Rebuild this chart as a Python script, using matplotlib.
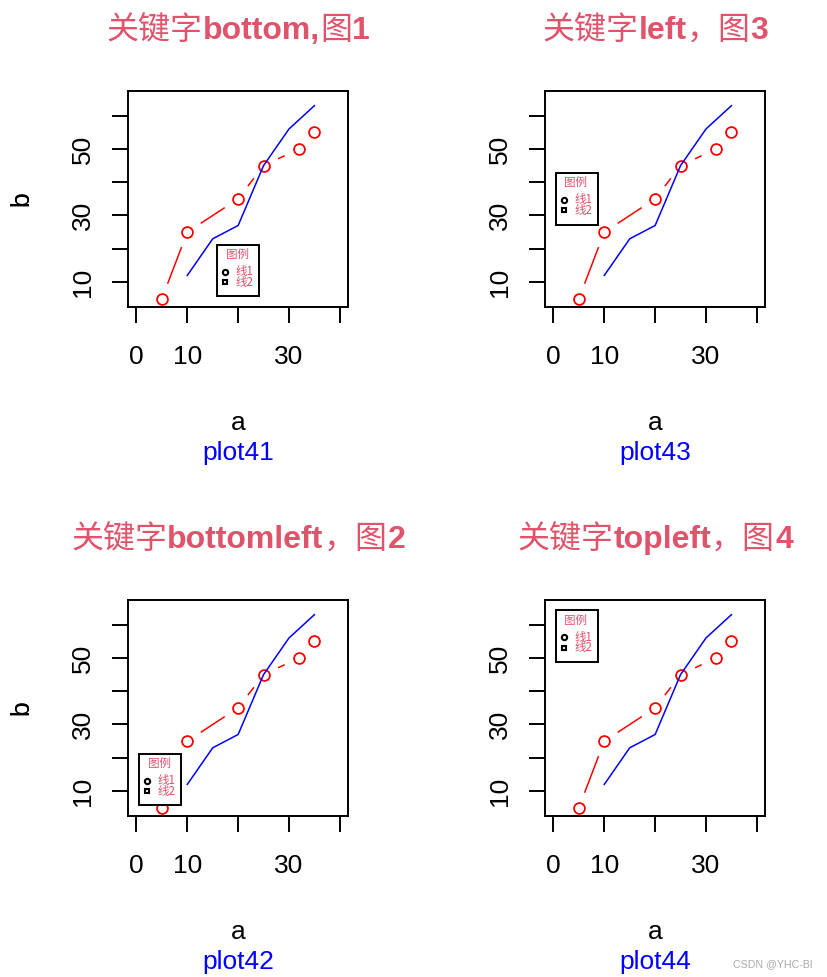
import numpy as np
import matplotlib
matplotlib.use("Agg")
import matplotlib.pyplot as plt
from matplotlib.lines import Line2D
from matplotlib.patches import Rectangle
from matplotlib.transforms import IdentityTransform

# data
a1 = [10, 15, 20, 25, 30, 35]      # blue line
b1 = [12, 23, 27, 45, 56, 63]
a2 = [5, 10, 20, 25, 32, 35]       # red points + gapped line
b2 = [5, 25, 35, 45, 50, 55]

x_ticks = [0, 10, 20, 30, 40]
x_labels = ["0", "10", "", "30", ""]
y_ticks = [10, 20, 30, 40, 50, 60]
y_labels = ["10", "", "30", "", "50", ""]

titles = ["关键字bottom,图1", "关键字left，图3", "关键字bottomleft，图2", "关键字topleft，图4"]
subs = ["plot41", "plot43", "plot42", "plot44"]
locs = ["bottom", "left", "bottomleft", "topleft"]
leg_title = "图例"
leg_labels = ["线1", "线2"]

TITLE_C = "#DF536B"
CJK = "Noto Sans CJK SC"
LAT = "Liberation Sans"
FS = 19

W, H = 827, 977
fig = plt.figure(figsize=(W / 100, H / 100), dpi=100)
PIX = IdentityTransform()

# panel boxes in pixels (left, top), measured from the top-left corner
boxes = [(128.3, 91), (545.3, 91), (128.3, 600), (545.3, 600)]
bw, bh = 219.7, 215.7


def runs(s):
    out = []
    for ch in s:
        k = ch.isascii()
        if out and out[-1][1] == k:
            out[-1][0] += ch
        else:
            out.append([ch, k])
    return out


def mixed_title(cx, ybase, s, size=23):
    # CJK part regular, latin part bold, like the R output
    r = fig.canvas.get_renderer()
    ts = []
    for txt, asc in runs(s):
        t = fig.text(0, H - ybase, txt, fontsize=size, color=TITLE_C,
                     family=LAT if asc else CJK,
                     weight="bold" if asc else "normal",
                     va="baseline", ha="left", transform=PIX)
        ts.append(t)
    widths = [t.get_window_extent(r).width for t in ts]
    x = cx - sum(widths) / 2
    for t, w in zip(ts, widths):
        t.set_x(x)
        x += w


def gapped(ax, xs, ys, gap=16):
    # type="b": segments stop short of each point
    pts = ax.transData.transform(np.column_stack([xs, ys]))
    inv = ax.transData.inverted()
    for p, q in zip(pts[:-1], pts[1:]):
        d = q - p
        L = np.hypot(*d)
        if L <= 2 * gap:
            continue
        u = d / L
        seg = inv.transform(np.array([p + u * gap, q - u * gap]))
        ax.plot(seg[:, 0], seg[:, 1], color="red", lw=1.1, solid_capstyle="butt")


def r_legend(left, top, where, lw=42.6, lh=51.6, inset=10.4):
    if where == "bottom":
        x0, y0 = left + bw / 2 - lw / 2, top + bh - inset - lh
    elif where == "left":
        x0, y0 = left + inset, top + bh / 2 - lh / 2
    elif where == "bottomleft":
        x0, y0 = left + inset, top + bh - inset - lh
    else:
        x0, y0 = left + inset, top + inset
    fig.add_artist(Rectangle((x0, H - y0 - lh), lw, lh, transform=PIX,
                             fill=True, fc="white", ec="black", lw=1.4))
    fig.text(x0 + 20.3, H - y0 - 9.8, leg_title, transform=PIX, ha="center",
             va="center", family=CJK, fontsize=8.3, color=TITLE_C)
    marks = [("o", 3.8), ("s", 3.1)]
    pitch = 10.4
    for k, (m, ms) in enumerate(marks):
        yc = H - y0 - 26.8 - pitch * k
        fig.add_artist(Line2D([x0 + 8.6], [yc], transform=PIX, ls="none", marker=m,
                              ms=ms, mfc="white", mec="black", mew=1.5))
    # both entry labels in one block, tight line pitch as in R
    fig.text(x0 + 18.8, H - y0 - 26.8 - pitch / 2, "\n".join(leg_labels),
             transform=PIX, ha="left", va="center", linespacing=0.77,
             family=CJK, fontsize=8.3, color=TITLE_C)


for i, (left, top) in enumerate(boxes):
    ax = fig.add_axes([left / W, 1 - (top + bh) / H, bw / W, bh / H])
    ax.set_xlim(-1.6, 41.6)
    ax.set_ylim(2.6, 67.4)

    ax.plot(a2, b2, ls="none", marker="o", ms=7.8, mfc="none", mec="red", mew=1.3)
    gapped(ax, a2, b2)
    ax.plot(a1, b1, color="blue", lw=1.1)

    ax.set_xticks(x_ticks)
    ax.set_xticklabels(x_labels, family=LAT, fontsize=FS)
    ax.set_yticks(y_ticks)
    ax.set_yticklabels(y_labels, family=LAT, fontsize=FS, rotation=90,
                       rotation_mode="anchor", ha="center", va="baseline")
    ax.tick_params(axis="x", length=11.5, width=1.4, pad=16)
    ax.tick_params(axis="y", length=11.5, width=1.4, pad=16)
    for sp in ax.spines.values():
        sp.set_linewidth(1.4)

    ax.annotate("a", xy=(0.5, 0), xycoords="axes fraction", xytext=(0, -123),
                textcoords="offset pixels", ha="center", va="baseline",
                family=LAT, fontsize=FS)
    ax.annotate(subs[i], xy=(0.5, 0), xycoords="axes fraction", xytext=(0, -153),
                textcoords="offset pixels", ha="center", va="baseline",
                family=LAT, fontsize=FS, color="blue")
    fig.text(28.3, H - (top + bh / 2), "b", rotation=90, rotation_mode="anchor",
             ha="center", va="baseline", family=LAT, fontsize=FS, transform=PIX)

    r_legend(left, top, locs[i])
    mixed_title(left + bw / 2, top - 52, titles[i])

fig.text(733, H - 967, "CSDN @YHC-BI", fontsize=7.7, color="#aaaaaa",
         family=LAT, ha="left", va="baseline", transform=PIX)

fig.savefig("out.png", dpi=100)
